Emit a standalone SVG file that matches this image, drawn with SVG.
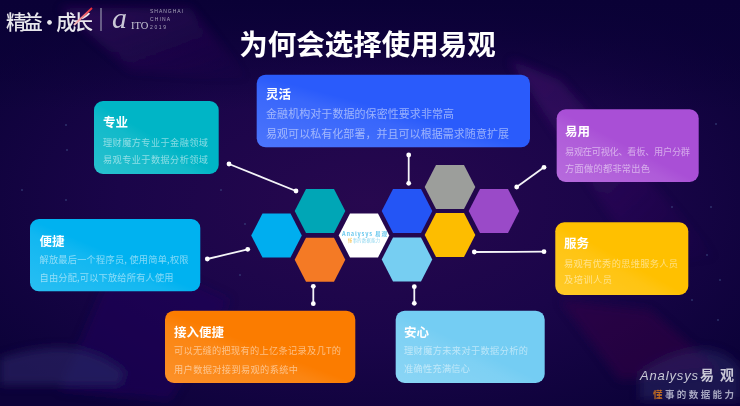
<svg xmlns="http://www.w3.org/2000/svg" width="740" height="406" viewBox="0 0 740 406">
<style>
text{font-family:"Noto Sans CJK SC","Liberation Sans",sans-serif;fill:#fff}
.h{font-size:12.5px;font-weight:700}
.b{font-size:9.2px;fill-opacity:.5}
.s{fill:url(#sheen)}
.c{stroke:#f4f4f8;stroke-width:1.8;fill:none;marker-start:url(#dot);marker-end:url(#dot)}
.l{font-family:"Liberation Sans",sans-serif;fill:#c9c8d6}
</style>
<defs>
<radialGradient id="bg" cx=".5" cy=".5" r=".62"><stop offset="0" stop-color="#27084f"/><stop offset=".55" stop-color="#1a0549"/><stop offset="1" stop-color="#0c0239"/></radialGradient>
<linearGradient id="top" x1="0" y1="0" x2="0" y2="1"><stop offset="0" stop-color="#0a0136" stop-opacity="1"/><stop offset="1" stop-color="#0a0136" stop-opacity="0"/></linearGradient>
<linearGradient id="beam" x1="0" y1="0" x2="1" y2="1"><stop offset="0" stop-color="#5a1a80" stop-opacity=".4"/><stop offset="1" stop-color="#5a1a80" stop-opacity="0"/></linearGradient>
<linearGradient id="sheen" x1="0" y1="1" x2="1" y2="0"><stop offset="0" stop-color="#fff" stop-opacity=".16"/><stop offset=".4" stop-color="#fff" stop-opacity=".07"/><stop offset=".5" stop-color="#fff" stop-opacity="0"/></linearGradient>
<linearGradient id="red" x1="0" y1="1" x2="1" y2="0"><stop offset="0" stop-color="#f6c8c8"/><stop offset="1" stop-color="#ee2a36"/></linearGradient>
<filter id="soft" x="-20%" y="-20%" width="140%" height="140%"><feGaussianBlur stdDeviation="5"/></filter>
<marker id="dot" markerUnits="userSpaceOnUse" markerWidth="7" markerHeight="7" refX="3.5" refY="3.5"><circle cx="3.5" cy="3.5" r="2.4" fill="#fff"/></marker>
<polygon id="hex" points="-25.3,0 -14,-22 14,-22 25.3,0 14,22 -14,22"/>
</defs>

<g id="background">
<rect width="740" height="406" fill="url(#bg)"/>
<rect width="740" height="110" fill="url(#top)"/>
<g filter="url(#soft)">
<polygon points="60,8 190,8 250,80 130,70" fill="url(#beam)"/>
<polygon points="510,60 560,80 720,260 640,260" fill="url(#beam)"/>
<polygon points="560,300 650,310 720,370 620,380" fill="#3a0a48" opacity=".45"/>
<polygon points="120,250 230,300 170,400 60,390" fill="#1f0758" opacity=".6"/>
<path d="M0,358 Q40,345 70,348 Q100,352 125,372 L120,385 L0,385Z" fill="#2c2a68" opacity=".6"/>
<path d="M640,372 Q680,345 712,350 Q730,354 740,368 L740,400 L640,400Z" fill="#2e2866" opacity=".5"/>
</g>
<g fill="#3f4f86" opacity=".6">
<circle cx="66" cy="125" r="1"/><circle cx="67" cy="150" r="1"/><circle cx="22" cy="190" r="1"/><circle cx="221" cy="190" r="1"/><circle cx="66" cy="200" r="1"/><circle cx="245" cy="224" r="1"/><circle cx="240" cy="275" r="1"/><circle cx="672" cy="207" r="1"/><circle cx="711" cy="207" r="1"/><circle cx="707" cy="255" r="1"/><circle cx="720" cy="280" r="1"/><circle cx="692" cy="300" r="1"/><circle cx="718" cy="320" r="1"/><circle cx="716" cy="124" r="1"/>
</g>
</g>

<g id="logo-left">
<text x="6" y="30" font-size="20" font-weight="500" textLength="87" lengthAdjust="spacing" fill-opacity=".9">精益·成长</text>
<line x1="74" y1="25" x2="92" y2="8" stroke="url(#red)" stroke-width="1.8"/>
<line x1="101" y1="8" x2="101" y2="31" stroke="#aeb0c0" stroke-width="1"/>
<text class="l" x="112" y="28" font-size="30" font-style="italic" style="font-family:'Liberation Serif',serif">a</text>
<text class="l" x="131" y="29" font-size="10.5" style="font-family:'Liberation Serif',serif">ITO</text>
<text class="l" x="150" y="13" font-size="5" textLength="33" fill-opacity=".8">SHANGHAI</text>
<text class="l" x="150" y="21" font-size="5" textLength="20" fill-opacity=".8">CHINA</text>
<text class="l" x="150" y="29" font-size="5" textLength="16" fill-opacity=".8">2019</text>
</g>

<text id="title" x="367.5" y="55" font-size="28.5" font-weight="700" text-anchor="middle">为何会选择使用易观</text>

<g id="connectors">
<line class="c" x1="229" y1="164" x2="296" y2="191"/>
<line class="c" x1="408.7" y1="155" x2="408.7" y2="183.3"/>
<line class="c" x1="516.7" y1="187" x2="544" y2="167.3"/>
<line class="c" x1="474.3" y1="252" x2="544" y2="251.7"/>
<line class="c" x1="207.3" y1="259" x2="247.7" y2="249.3"/>
<line class="c" x1="313.3" y1="286.3" x2="313.3" y2="303.7"/>
<line class="c" x1="414.3" y1="286.7" x2="414.3" y2="303.3"/>
</g>

<g id="hexagons">
<use id="hex-sky" href="#hex" x="276.5" y="235.5" fill="#00aeef"/>
<use id="hex-teal" href="#hex" x="320" y="211" fill="#00a6b6"/>
<use id="hex-orange" href="#hex" x="320" y="259.7" fill="#f47a25"/>
<use id="hex-blue" href="#hex" x="407" y="211" fill="#2455f5"/>
<use id="hex-light" href="#hex" x="407" y="259.5" fill="#76cef2"/>
<use id="hex-gray" href="#hex" x="450" y="187" fill="#9c9e9b"/>
<use id="hex-yellow" href="#hex" x="450" y="235" fill="#fdbd00"/>
<use id="hex-purple" href="#hex" x="494" y="211" fill="#9a4ac8"/>
<g id="hex-center">
<use href="#hex" x="364" y="235.5" fill="#fff"/>
<text x="342" y="236" font-size="5.6" font-weight="700" style="fill:#6cc9ee" textLength="45" lengthAdjust="spacing">Analysys 易观</text>
<text x="348" y="242" font-size="4.2" style="fill:#8ed6ef" textLength="32"><tspan style="fill:#f6b93b">懂</tspan>事的数据能力</text>
</g>
</g>

<g id="card-zhuanye">
<rect x="94" y="101" width="124.7" height="73" rx="9" fill="#00b5c6"/>
<rect class="s" x="94" y="101" width="124.7" height="73" rx="9"/>
<text class="h" x="103" y="127">专业</text>
<text class="b" x="103" y="145.5" textLength="105">理财魔方专业于金融领域</text>
<text class="b" x="103" y="162.5" textLength="105">易观专业于数据分析领域</text>
</g>
<g id="card-linghuo">
<rect x="256.7" y="74.7" width="273.3" height="72.6" rx="9" fill="#2a5bfb"/>
<rect class="s" x="256.7" y="74.7" width="273.3" height="72.6" rx="9"/>
<text class="h" x="266" y="98.5">灵活</text>
<text class="b" x="266" y="118" style="font-size:11px" textLength="188">金融机构对于数据的保密性要求非常高</text>
<text class="b" x="266" y="138" style="font-size:11px" textLength="243">易观可以私有化部署，并且可以根据需求随意扩展</text>
</g>
<g id="card-yiyong">
<rect x="556.7" y="109.3" width="142" height="72.7" rx="9" fill="#a94fd6"/>
<rect class="s" x="556.7" y="109.3" width="142" height="72.7" rx="9"/>
<text class="h" x="565" y="136">易用</text>
<text class="b" x="565" y="155" textLength="125">易观在可视化、看板、用户分群</text>
<text class="b" x="565" y="171.5" textLength="85">方面做的都非常出色</text>
</g>
<g id="card-fuwu">
<rect x="555.3" y="222.3" width="133" height="72.7" rx="9" fill="#ffc000"/>
<rect class="s" x="555.3" y="222.3" width="133" height="72.7" rx="9"/>
<text class="h" x="564" y="248">服务</text>
<text class="b" x="564" y="266.7" textLength="114">易观有优秀的思维服务人员</text>
<text class="b" x="564" y="283" textLength="48">及培训人员</text>
</g>
<g id="card-bianjie">
<rect x="30" y="219" width="170.3" height="72.3" rx="9" fill="#00b2f0"/>
<rect class="s" x="30" y="219" width="170.3" height="72.3" rx="9"/>
<text class="h" x="39.5" y="245.7">便捷</text>
<text class="b" x="39.5" y="263.3" textLength="149">解放最后一个程序员, 使用简单,权限</text>
<text class="b" x="39.5" y="280.7" textLength="134">自由分配,可以下放给所有人使用</text>
</g>
<g id="card-jieru">
<rect x="165" y="310.7" width="190.3" height="72.3" rx="9" fill="#fb7c00"/>
<rect class="s" x="165" y="310.7" width="190.3" height="72.3" rx="9"/>
<text class="h" x="174" y="337.3">接入便捷</text>
<text class="b" x="174" y="354" textLength="167">可以无缝的把现有的上亿条记录及几T的</text>
<text class="b" x="174" y="372.7" textLength="124">用户数据对接到易观的系统中</text>
</g>
<g id="card-anxin">
<rect x="395.7" y="310.7" width="149" height="72.3" rx="9" fill="#74cdf3"/>
<rect class="s" x="395.7" y="310.7" width="149" height="72.3" rx="9"/>
<text class="h" x="404" y="336.7">安心</text>
<text class="b" x="404" y="354" textLength="124">理财魔方未来对于数据分析的</text>
<text class="b" x="404" y="372" textLength="66">准确性充满信心</text>
</g>

<g id="logo-right">
<text class="l" x="640" y="380" font-size="13" font-style="italic" textLength="58">Analysys</text>
<text class="l" x="700" y="380" font-size="14" font-weight="700" textLength="34" style="font-family:'Noto Sans CJK SC',sans-serif">易观</text>
<text x="653" y="398" font-size="9.5" font-weight="700" textLength="81" style="fill:#a6a6c0"><tspan style="fill:#c9701f">懂</tspan>事的数据能力</text>
</g>
</svg>
